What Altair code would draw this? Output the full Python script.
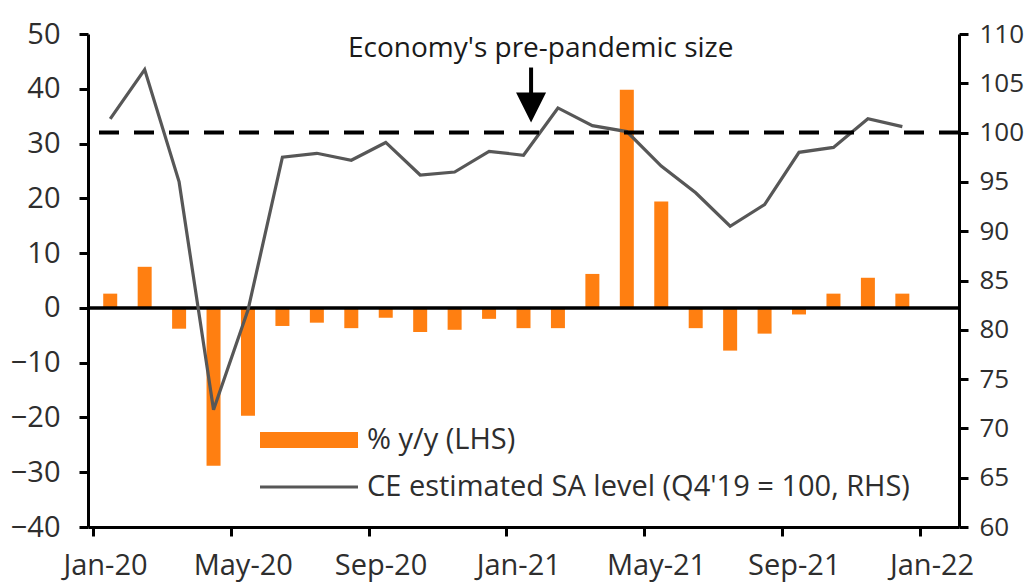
import json
import numpy as np
import pandas as pd
import altair as alt

months = ["Jan-20", "Feb-20", "Mar-20", "Apr-20", "May-20", "Jun-20",
          "Jul-20", "Aug-20", "Sep-20", "Oct-20", "Nov-20", "Dec-20",
          "Jan-21", "Feb-21", "Mar-21", "Apr-21", "May-21", "Jun-21",
          "Jul-21", "Aug-21", "Sep-21", "Oct-21", "Nov-21", "Dec-21"]
yoy = [2.6, 7.5, -3.8, -28.8, -19.7, -3.3, -2.7, -3.7, -1.8, -4.4, -4.0, -2.0,
       -3.7, -3.7, 6.2, 39.8, 19.4, -3.7, -7.8, -4.7, -1.2, 2.6, 5.5, 2.6]
level = [101.4, 106.4, 95.0, 71.9, 82.0, 97.5, 97.9, 97.2, 99.0, 95.7, 96.0, 98.1,
         97.7, 102.5, 100.7, 100.1, 96.6, 93.9, 90.5, 92.7, 98.0, 98.5, 101.4, 100.6]
tick_labels = ["Jan-20", "May-20", "Sep-20", "Jan-21", "May-21", "Sep-21", "Jan-22"]
left_ticks = [-40, -30, -20, -10, 0, 10, 20, 30, 40, 50]
right_ticks = [60, 65, 70, 75, 80, 85, 90, 95, 100, 105, 110]
annotation = "Economy's pre-pandemic size"
legend_bar = "% y/y (LHS)"
legend_line = "CE estimated SA level (Q4'19 = 100, RHS)"

FONT = "Open Sans"
FS = 29
W, H = 871, 493
ORANGE = "#FF7F11"
GREY = "#575757"
LBL = "#2e2e2e"

df = pd.DataFrame({"month": months, "pos": np.arange(len(months)) + 0.5,
                   "yoy": yoy, "level": level})

xscale = alt.Scale(domain=[0, 25], nice=False, zero=False)
lscale = alt.Scale(domain=[-40, 50], nice=False)
rscale = alt.Scale(domain=[60, 110], nice=False, zero=False)

label_expr = json.dumps(tick_labels) + "[datum.value / 4]"
xaxis = alt.Axis(values=[0, 4, 8, 12, 16, 20, 24], labelExpr=label_expr, title=None,
                 domainColor="black", domainWidth=3, tickColor="black", tickWidth=3,
                 tickSize=9, labelFont=FONT, labelFontSize=FS, labelColor=LBL,
                 labelPadding=15, labelOffset=12, grid=False, labelFlush=False)
x = alt.X("pos:Q", scale=xscale, axis=xaxis)

bars = alt.Chart(df).mark_bar(color=ORANGE, width=14).encode(
    x=x,
    y=alt.Y("yoy:Q", scale=lscale,
            axis=alt.Axis(values=left_ticks, title=None, orient="left", domainColor="black",
                          domainWidth=3, tickColor="black", tickWidth=3, tickSize=9,
                          labelFont=FONT, labelFontSize=FS, labelColor=LBL,
                          labelPadding=19, grid=False)),
    y2=alt.datum(0),
)
zero = alt.Chart(pd.DataFrame({"v": [0]})).mark_rule(color="black", strokeWidth=3.5).encode(
    y=alt.Y("v:Q", scale=lscale))
left = alt.layer(bars, zero)

line = alt.Chart(df).mark_line(color=GREY, strokeWidth=3.2).encode(
    x=x,
    y=alt.Y("level:Q", scale=rscale,
            axis=alt.Axis(values=right_ticks, title=None, orient="right", domainColor="black",
                          domainWidth=3, tickColor="black", tickWidth=3, tickSize=9,
                          labelFont=FONT, labelFontSize=26, labelColor=LBL,
                          labelPadding=11, grid=False)),
)
dashed = alt.Chart(pd.DataFrame({"v": [100]})).mark_rule(
    color="black", strokeWidth=4, strokeDash=[20, 15]).encode(y=alt.Y("v:Q", scale=rscale))

arrow_df = pd.DataFrame({"ax": [12.72], "ytop": [106.6], "ybase": [103.8], "yhead": [102.55],
                         "tx": [13.0], "ty": [108.45], "label": [annotation]})
shaft = alt.Chart(arrow_df).mark_rule(color="black", strokeWidth=4).encode(
    x=alt.X("ax:Q", scale=xscale), y=alt.Y("ytop:Q", scale=rscale), y2="ybase:Q")
head = alt.Chart(arrow_df).mark_point(
    shape="M-1,-1L1,-1L0,1Z", filled=True, color="black", opacity=1, size=900, strokeWidth=0
).encode(x=alt.X("ax:Q", scale=xscale), y=alt.Y("yhead:Q", scale=rscale))
note = alt.Chart(arrow_df).mark_text(
    font=FONT, fontSize=28, color="#1a1a1a", align="center", baseline="middle"
).encode(x=alt.X("tx:Q", scale=xscale), y=alt.Y("ty:Q", scale=rscale), text="label:N")

right = alt.layer(line, dashed, shaft, head, note)

leg_df = pd.DataFrame({"t": [legend_bar]})
leg_bar = alt.Chart(leg_df).mark_rect(color=ORANGE).encode(
    x=alt.value(172), x2=alt.value(270), y=alt.value(398), y2=alt.value(414))
leg_bar_t = alt.Chart(leg_df).mark_text(
    font=FONT, fontSize=FS, color=LBL, align="left", baseline="middle").encode(
    x=alt.value(279), y=alt.value(406), text="t:N")
leg2_df = pd.DataFrame({"t": [legend_line]})
leg_line = alt.Chart(leg2_df).mark_rule(color=GREY, strokeWidth=3.2).encode(
    x=alt.value(172), x2=alt.value(270), y=alt.value(453))
leg_line_t = alt.Chart(leg2_df).mark_text(
    font=FONT, fontSize=FS, color=LBL, align="left", baseline="middle").encode(
    x=alt.value(279), y=alt.value(453), text="t:N")

chart = alt.layer(left, right, leg_bar, leg_bar_t, leg_line, leg_line_t).resolve_scale(
    y="independent"
).properties(
    width=W, height=H,
    padding={"left": 80, "top": 26, "right": 69, "bottom": 62},
    autosize=alt.AutoSizeParams(type="none"),
    background="white",
).configure_view(stroke=None)

chart.save("out.html", embed_options={"renderer": "svg", "actions": False})
